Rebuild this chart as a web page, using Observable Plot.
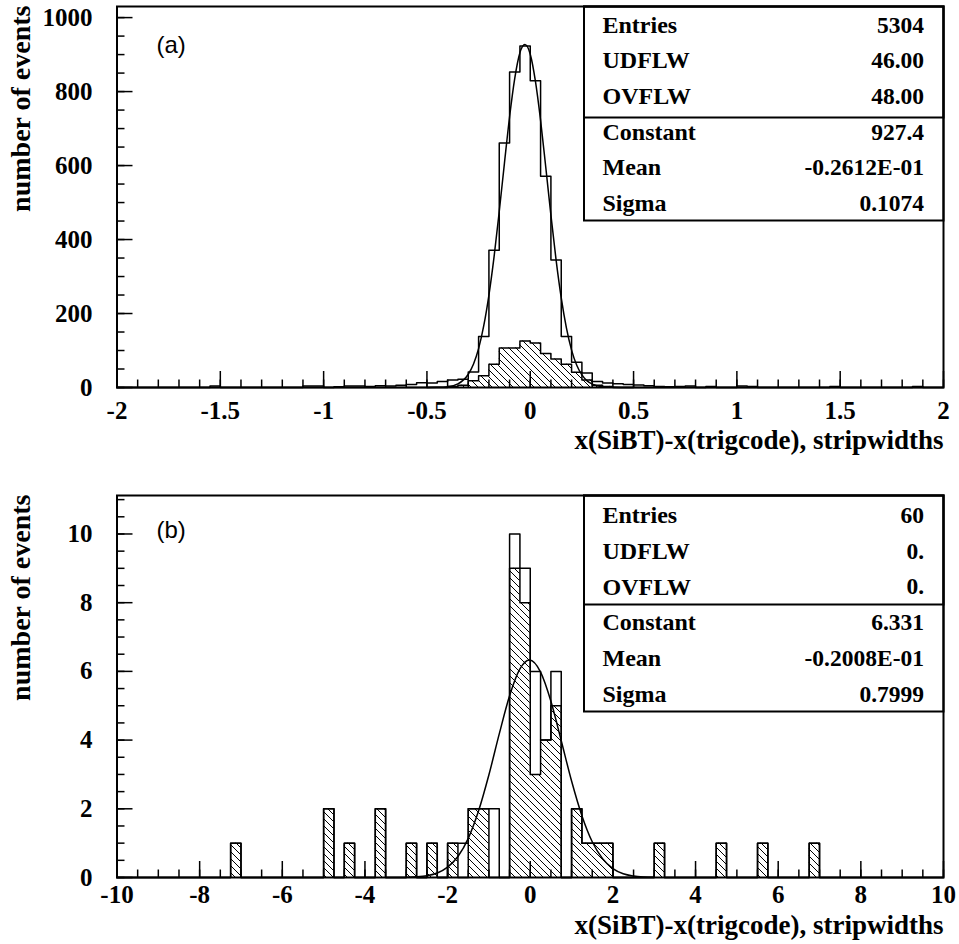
<!DOCTYPE html>
<html><head><meta charset="utf-8">
<script src="https://cdn.jsdelivr.net/npm/d3@7"></script>
<script src="https://cdn.jsdelivr.net/npm/@observablehq/plot@0.6"></script>
<style>
body{margin:0;background:#fff;}
#chart{width:959px;}
#chart svg{display:block;}
#chart svg text{font-family:"Liberation Serif","Times New Roman",serif;font-weight:bold;}
#chart svg text.letter{font-family:"Liberation Sans",Arial,sans-serif;font-weight:normal;}
</style></head><body>
<svg width="0" height="0" style="position:absolute">
<defs><pattern id="hatch" patternUnits="userSpaceOnUse" width="7" height="7">
<path d="M-1,-1L8,8M-8,-1L1,8M6,-1L15,8" stroke="black" stroke-width="1"/>
</pattern></defs></svg>
<div id="chart"></div>
<script>
// ---------- panel (a) data ----------
const startA = -2, binWidthA = 0.05;
const countsA = [
  0,0,0,0,0,0,0,0,0,4,
  0,0,0,0,0,0,0,0,4,4,
  0,2,4,4,3,5,4,6,8,13,
  12,16,20,22,42,138,371,661,853,923,
  829,571,345,138,68,39,16,12,10,8,
  7,5,3,2,3,4,0,3,0,0,
  4,3,0,0,0,0,0,0,0,3,
  0,0,0,0,0,0,0,3,0,0];
const hatchedA = [
  0,0,0,0,0,0,0,0,0,0,
  0,0,0,0,0,0,0,0,0,0,
  0,0,0,0,0,0,0,0,0,0,
  0,0,3,6,18,32,63,107,107,126,
  120,92,77,63,41,20,6,3,0,0,
  0,0,0,0,0,0,0,0,0,0,
  0,0,0,0,0,0,0,0,0,0,
  0,0,0,0,0,0,0,0,0,0];
const fitXA = [-0.5,-0.45,-0.4,-0.35,-0.3,-0.275,-0.25,-0.225,-0.2,-0.175,-0.15,-0.125,-0.1,-0.075,-0.05,-0.026,0,0.025,0.05,0.075,0.1,0.125,0.15,0.175,0.2,0.225,0.25,0.275,0.3,0.35,0.4,0.45,0.5];
const fitYA = [0.05,0.4,2.1,9.8,35.8,63,105,167,250,354,476,606,732,836,905,927,901,828,722,596,466,345,242,161,101,60,34,18,9.3,2.0,0.4,0.1,0.0];
const xTickValuesA = [-2,-1.5,-1,-0.5,0,0.5,1,1.5,2];
const xTickLabelsA = ["-2","-1.5","-1","-0.5","0","0.5","1","1.5","2"];
const yTickValuesA = [0,200,400,600,800,1000];
const yTickLabelsA = ["0","200","400","600","800","1000"];
const statLabelsA = ["Entries","UDFLW","OVFLW","Constant","Mean","Sigma"];
const statValuesA = ["5304","46.00","48.00","927.4","-0.2612E-01","0.1074"];

// ---------- panel (b) data ----------
const startB = -10, binWidthB = 0.25;
const countsB = [
  0,0,0,0,0,0,0,0,0,0,
  0,1,0,0,0,0,0,0,0,0,
  2,0,1,0,0,2,0,0,1,0,
  1,0,1,1,2,2,2,0,10,9,
  6,4,6,0,2,1,1,1,0,0,
  0,0,1,0,0,0,0,0,1,0,
  0,0,1,0,0,0,0,1,0,0,
  0,0,0,0,0,0,0,0,0,0];
const hatchedB = [
  0,0,0,0,0,0,0,0,0,0,
  0,1,0,0,0,0,0,0,0,0,
  2,0,1,0,0,2,0,0,1,0,
  1,0,1,0,2,2,0,0,9,8,
  3,4,5,0,2,1,1,1,0,0,
  0,0,1,0,0,0,0,0,1,0,
  0,0,1,0,0,0,0,1,0,0,
  0,0,0,0,0,0,0,0,0,0];
const fitXB = [-3,-2.75,-2.5,-2.25,-2,-1.75,-1.5,-1.25,-1,-0.75,-0.5,-0.25,-0.02,0.25,0.5,0.75,1,1.25,1.5,1.75,2,2.25,2.5,2.75,3];
const fitYB = [0.006,0.019,0.052,0.13,0.30,0.61,1.14,1.94,2.99,4.18,5.29,6.07,6.33,5.98,5.13,3.98,2.81,1.80,1.04,0.55,0.26,0.11,0.044,0.016,0.005];
const xTickValuesB = [-10,-8,-6,-4,-2,0,2,4,6,8,10];
const xTickLabelsB = ["-10","-8","-6","-4","-2","0","2","4","6","8","10"];
const yTickValuesB = [0,2,4,6,8,10];
const yTickLabelsB = ["0","2","4","6","8","10"];
const statLabelsB = ["Entries","UDFLW","OVFLW","Constant","Mean","Sigma"];
const statValuesB = ["60","0.","0.","6.331","-0.2008E-01","0.7999"];

const xTitle = "x(SiBT)-x(trigcode), stripwidths";
const yTitle = "number of events";

function stepPoints(start, w, counts) {
  const pts = [{x: start, y: 0}];
  counts.forEach((c, i) => pts.push({x: start + i * w, y: c}));
  const end = start + counts.length * w;
  pts.push({x: end, y: counts[counts.length - 1]});
  pts.push({x: end, y: 0});
  return pts;
}
function bins(start, w, counts) {
  return counts.map((c, i) => ({x1: start + i * w, x2: start + (i + 1) * w, c})).filter(d => d.c > 0);
}

function panel(cfg) {
  const W = 959, ML = 116.5, MR = 16;
  const PW = W - ML - MR;
  const PH = cfg.height - cfg.marginTop - cfg.marginBottom;
  const ticks = (vals, len, axis) => axis === "x"
    ? Plot.ruleX(vals, {x: d => d, insetTop: PH - len, stroke: "black", strokeWidth: 1.5})
    : Plot.ruleY(vals, {y: d => d, insetRight: PW - len, stroke: "black", strokeWidth: 1.5});
  const xt = cfg.xTickValues.map((v, i) => ({v, l: cfg.xTickLabels[i]}));
  const yt = cfg.yTickValues.map((v, i) => ({v, l: cfg.yTickLabels[i]}));
  const rowDy = i => cfg.rowTop + i * 35.7;
  const statMarks = [];
  cfg.statLabels.forEach((s, i) => {
    statMarks.push(Plot.text([s], {text: d => d, frameAnchor: "top-left", dx: 485.5, dy: rowDy(i), textAnchor: "start", lineAnchor: "middle", fontSize: 24}));
    statMarks.push(Plot.text([cfg.statValues[i]], {text: d => d, frameAnchor: "top-right", dx: -19.5, dy: rowDy(i), textAnchor: "end", lineAnchor: "middle", fontSize: 23.5}));
  });
  const fit = cfg.fitX.map((x, i) => ({x, y: cfg.fitY[i]}));
  const svg = Plot.plot({
    width: W, height: cfg.height,
    marginLeft: ML, marginRight: MR, marginTop: cfg.marginTop, marginBottom: cfg.marginBottom,
    style: {background: "white", color: "black"},
    x: {domain: cfg.xDomain, axis: null},
    y: {domain: [0, cfg.yMax], axis: null},
    marks: [
      Plot.rect(bins(cfg.start, cfg.w, cfg.hatched), {x1: "x1", x2: "x2", y1: 0, y2: "c", fill: "url(#hatch)", inset: 0}),
      Plot.line(stepPoints(cfg.start, cfg.w, cfg.hatched), {x: "x", y: "y", curve: "step-after", stroke: "black", strokeWidth: 1.5}),
      Plot.line(stepPoints(cfg.start, cfg.w, cfg.counts), {x: "x", y: "y", curve: "step-after", stroke: "black", strokeWidth: 1.5}),
      Plot.line(fit, {x: "x", y: "y", curve: "monotone-x", stroke: "black", strokeWidth: 1.5}),
      ticks(cfg.xMinor, 7.5, "x"),
      ticks(cfg.xTickValues, 16, "x"),
      ticks(cfg.yMinor, 8, "y"),
      ticks(cfg.yTickValues, 16, "y"),
      Plot.frame({insetLeft: 467, insetBottom: cfg.boxBottom, stroke: "black", strokeWidth: 2, fill: "white"}),
      Plot.frame({insetLeft: 467, insetBottom: cfg.divBottom, stroke: "black", strokeWidth: 2}),
      ...statMarks,
      Plot.frame({stroke: "black", strokeWidth: 2}),
      Plot.text(xt, {x: "v", text: "l", frameAnchor: "bottom", dy: cfg.xLabelDy, lineAnchor: "middle", fontSize: 25}),
      Plot.text(yt, {y: "v", text: "l", frameAnchor: "left", dx: -24.5, textAnchor: "end", lineAnchor: "middle", fontSize: 25}),
      Plot.text([xTitle], {text: d => d, frameAnchor: "bottom-right", dy: cfg.xTitleDy, textAnchor: "end", lineAnchor: "middle", fontSize: 27}),
      Plot.text([yTitle], {text: d => d, frameAnchor: "top-left", dx: -96, dy: -1, rotate: -90, textAnchor: "end", lineAnchor: "middle", fontSize: 28}),
      Plot.text([cfg.letter], {text: d => d, frameAnchor: "top-left", dx: 39.5, dy: cfg.letterDy, textAnchor: "start", lineAnchor: "middle", fontSize: 24})
    ]
  });
  d3.select(svg).selectAll("text").filter(function() { return this.textContent === cfg.letter; }).classed("letter", true);
  return svg;
}

const chart = document.getElementById("chart");
chart.append(panel({
  height: 460, marginTop: 6, marginBottom: 73,
  xDomain: [-2, 2], yMax: 1030, start: startA, w: binWidthA,
  counts: countsA, hatched: hatchedA, fitX: fitXA, fitY: fitYA,
  xTickValues: xTickValuesA, xTickLabels: xTickLabelsA, xMinor: d3.range(-20, 21).map(i => i / 10),
  yTickValues: yTickValuesA, yTickLabels: yTickLabelsA, yMinor: d3.range(0, 21).map(i => i * 50),
  statLabels: statLabelsA, statValues: statValuesA,
  boxBottom: 167, divBottom: 270, rowTop: 18.5,
  xLabelDy: 23.5, xTitleDy: 53, letter: "(a)", letterDy: 39
}));
chart.append(panel({
  height: 484, marginTop: 35, marginBottom: 67,
  xDomain: [-10, 10], yMax: 11.12, start: startB, w: binWidthB,
  counts: countsB, hatched: hatchedB, fitX: fitXB, fitY: fitYB,
  xTickValues: xTickValuesB, xTickLabels: xTickLabelsB, xMinor: d3.range(-20, 21).map(i => i / 2),
  yTickValues: yTickValuesB, yTickLabels: yTickLabelsB, yMinor: d3.range(0, 23).map(i => i / 2),
  statLabels: statLabelsB, statValues: statValuesB,
  boxBottom: 166, divBottom: 273, rowTop: 20,
  xLabelDy: 17, xTitleDy: 48, letter: "(b)", letterDy: 35
}));
</script>
</body></html>
